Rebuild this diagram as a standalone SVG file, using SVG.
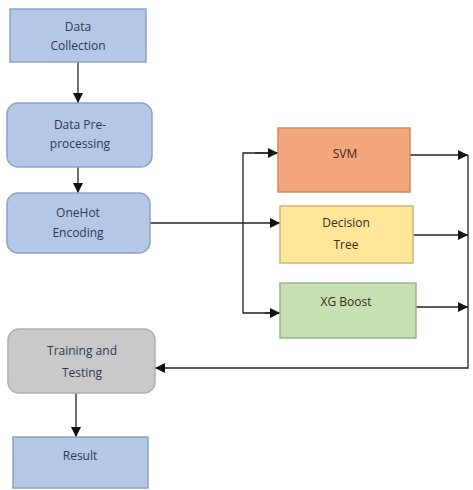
<svg xmlns="http://www.w3.org/2000/svg" width="473" height="490" viewBox="0 0 473 490">
<style>
text{font-family:"Open Sans","Noto Sans","Liberation Sans",sans-serif;font-size:12px;text-anchor:middle;fill:#2b3a55}
.blue{fill:#b4c7e7;stroke:#8ea3c4;stroke-width:1.5}
.gray{fill:#c9c9c9;stroke:#b0b0b0;stroke-width:1.5}
.svm{fill:#f4a67c;stroke:#c98a66;stroke-width:1.5}
.dt{fill:#ffe699;stroke:#cfb76e;stroke-width:1.5}
.xg{fill:#c6e0b4;stroke:#9cb58c;stroke-width:1.5}
.c{fill:none;stroke:#222;stroke-width:1.3}
.dark{fill:#3a2a1a}
</style>
<defs>
<marker id="ah" viewBox="0 0 10 10" refX="10" refY="5" markerWidth="10" markerHeight="10" markerUnits="userSpaceOnUse" orient="auto">
<path d="M0,0 L10,5 L0,10 z" fill="#111"/>
</marker>
</defs>
<rect width="473" height="490" fill="#fff"/>
<g id="connectors">
<path class="c" d="M78,62 V103" marker-end="url(#ah)"/>
<path class="c" d="M78,167 V193" marker-end="url(#ah)"/>
<path class="c" d="M150,223 H280" marker-end="url(#ah)"/>
<path class="c" d="M278,153 H243 V313 H280"/>
<path class="c" d="M255,153 H278" marker-end="url(#ah)"/>
<path class="c" d="M265,313 H280" marker-end="url(#ah)"/>
<path class="c" d="M410,155 H468" marker-end="url(#ah)"/>
<path class="c" d="M413,235 H468" marker-end="url(#ah)"/>
<path class="c" d="M416,307 H468" marker-end="url(#ah)"/>
<path class="c" d="M468,155 V368 H155" marker-end="url(#ah)"/>
<path class="c" d="M76,393 V437" marker-end="url(#ah)"/>
</g>
<g id="data-collection">
<rect class="blue" x="10" y="9" width="136" height="53"/>
<text x="78" y="31">Data</text>
<text x="78" y="50">Collection</text>
</g>
<g id="data-preprocessing">
<rect class="blue" x="7" y="103" width="145" height="64" rx="11"/>
<text x="80" y="129">Data Pre-</text>
<text x="80" y="148">processing</text>
</g>
<g id="onehot-encoding">
<rect class="blue" x="7" y="193" width="143" height="60" rx="11"/>
<text x="78" y="217">OneHot</text>
<text x="78" y="237">Encoding</text>
</g>
<g id="svm">
<rect class="svm" x="278" y="128" width="132" height="64"/>
<text class="dark" x="345" y="158">SVM</text>
</g>
<g id="decision-tree">
<rect class="dt" x="280" y="206" width="133" height="57"/>
<text class="dark" x="346" y="227">Decision</text>
<text class="dark" x="346" y="249">Tree</text>
</g>
<g id="xg-boost">
<rect class="xg" x="280" y="283" width="136" height="55"/>
<text class="dark" x="346" y="306">XG Boost</text>
</g>
<g id="training-testing">
<rect class="gray" x="8" y="329" width="147" height="64" rx="11"/>
<text x="82" y="355">Training and</text>
<text x="82" y="377">Testing</text>
</g>
<g id="result">
<rect class="blue" x="13" y="437" width="135" height="51"/>
<text x="80" y="460">Result</text>
</g>
</svg>
